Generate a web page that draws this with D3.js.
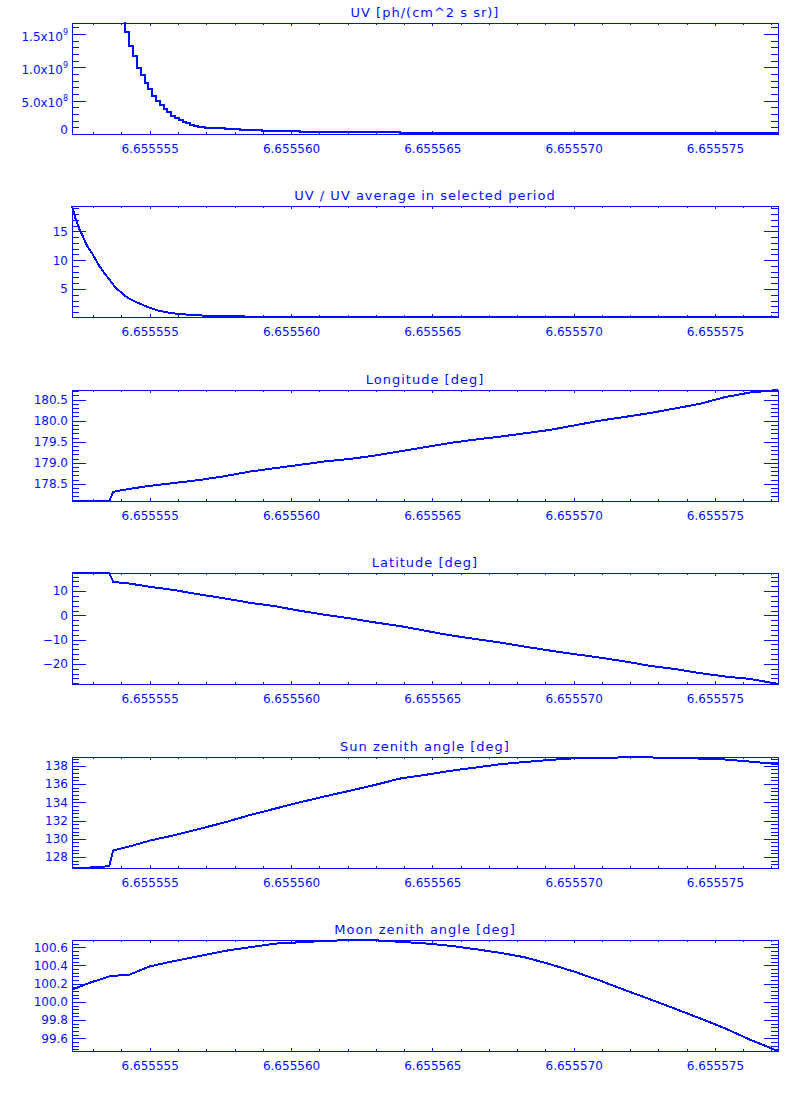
<!DOCTYPE html>
<html><head><meta charset="utf-8">
<script src="https://cdnjs.cloudflare.com/ajax/libs/d3/7.8.5/d3.min.js"></script>
<style>
body{margin:0;background:#fff;}
</style></head><body>
<svg id="chart" width="800" height="1100"></svg>
<script>
// ---------------- data ----------------
const BLUE = "#0010ff";
const timeRange = [6.65555225, 6.65557723];
const timeTicks = [6.655555, 6.655560, 6.655565, 6.655570, 6.655575];
const timeMinorStep = 1e-6;

const titles = [
  "UV [ph/(cm^2 s sr)]",
  "UV / UV average in selected period",
  "Longitude [deg]",
  "Latitude [deg]",
  "Sun zenith angle [deg]",
  "Moon zenith angle [deg]"
];

// Panel 1: UV radiance (histogram-style steps)
const uvTime = [6.65555225, 6.65555358, 6.65555387, 6.65555401, 6.65555414, 6.65555427, 6.65555441,
  6.65555454, 6.65555468, 6.65555482, 6.65555495, 6.65555508, 6.65555522, 6.65555535, 6.65555549,
  6.65555562, 6.65555576, 6.65555590, 6.65555603, 6.65555616, 6.65555630, 6.65555643, 6.65555657,
  6.65555670, 6.65555684, 6.65555697, 6.65555723, 6.65555765, 6.65555818, 6.65555896, 6.65556031,
  6.65556385, 6.65556915, 6.65557723];
const uvValue = [8.0e9, 2.8e9, 2.1e9, 1.8e9, 1.526e9, 1.315e9, 1.176e9,
  9.95e8, 8.9e8, 7.7e8, 6.8e8, 5.75e8, 5.0e8, 4.4e8, 3.8e8,
  3.35e8, 2.75e8, 2.45e8, 2.15e8, 1.85e8, 1.7e8, 1.4e8, 1.25e8,
  1.1e8, 1.05e8, 9.5e7, 8.5e7, 7.5e7, 6.0e7, 4.5e7, 3.0e7,
  2.0e7, 1.2e7, 1.0e7];
const uvRange = [0, 1.667e9];
const uvTicks = [0, 5e8, 1e9, 1.5e9];
const uvTickBase = ["0", "5.0x10", "1.0x10", "1.5x10"];
const uvTickExp = ["", "8", "9", "9"];
const uvMinor = 1e8;

// Panel 2: UV / average
const ratioTime = [6.65555225, 6.65555235, 6.65555243, 6.65555252, 6.65555264, 6.65555276, 6.65555288,
  6.65555299, 6.65555311, 6.65555323, 6.65555341, 6.65555358, 6.65555376, 6.65555394, 6.65555412,
  6.65555429, 6.65555447, 6.65555465, 6.65555482, 6.65555500, 6.65555518, 6.65555535, 6.65555571,
  6.65555606, 6.65555652, 6.65555719, 6.65555783, 6.65555889, 6.65556031, 6.65556385, 6.65557723];
const ratioValue = [19.4, 17.6, 16.5, 15.3, 14.1, 12.7, 11.8,
  10.95, 9.9, 8.9, 7.66, 6.6, 5.45, 4.6, 3.84,
  3.3, 2.85, 2.45, 2.1, 1.75, 1.45, 1.2, 0.85,
  0.66, 0.49, 0.31, 0.25, 0.2, 0.17, 0.15, 0.14];
const ratioRange = [0.14, 19.41];
const ratioTicks = [5, 10, 15];
const ratioMinor = 1;

// Panels 3-6 share a time grid
const geoTime = [6.65555225, 6.65555288, 6.65555357, 6.65555371, 6.65555429, 6.65555500, 6.65555588,
  6.65555677, 6.65555765, 6.65555854, 6.65555942, 6.65556031, 6.65556119, 6.65556208, 6.65556296,
  6.65556385, 6.65556473, 6.65556562, 6.65556650, 6.65556739, 6.65556827, 6.65556915, 6.65557004,
  6.65557092, 6.65557181, 6.65557269, 6.65557358, 6.65557446, 6.65557535, 6.65557623, 6.65557723];
const longitude = [178.09, 178.09, 178.09, 178.31, 178.38, 178.45, 178.52,
  178.59, 178.68, 178.79, 178.87, 178.95, 179.03, 179.09, 179.17,
  179.27, 179.37, 179.47, 179.55, 179.62, 179.70, 179.78, 179.89,
  180.00, 180.09, 180.18, 180.29, 180.40, 180.56, 180.67, 180.73];
const latitude = [17.45, 17.45, 17.45, 13.8, 13.1, 11.8, 10.4,
  8.6, 7.0, 5.2, 3.8, 1.9, 0.25, -1.2, -2.9,
  -4.4, -6.3, -8.2, -9.7, -11.2, -12.9, -14.5, -16.0,
  -17.4, -19.0, -20.8, -22.1, -23.8, -25.2, -26.2, -28.25];
const sunZenith = [126.85, 126.85, 127.0, 128.73, 129.17, 129.8, 130.4,
  131.1, 131.8, 132.6, 133.3, 134.0, 134.65, 135.27, 135.9,
  136.6, 137.0, 137.45, 137.8, 138.17, 138.42, 138.65, 138.83,
  138.9, 138.92, 138.92, 138.88, 138.8, 138.7, 138.47, 138.18];
const moonZenith = [100.135, 100.21, 100.28, 100.285, 100.30, 100.39, 100.45,
  100.505, 100.56, 100.60, 100.64, 100.655, 100.67, 100.679, 100.677,
  100.66, 100.643, 100.617, 100.58, 100.54, 100.49, 100.415, 100.33,
  100.235, 100.13, 100.03, 99.925, 99.82, 99.71, 99.585, 99.46];

const lonRange = [178.09, 180.73];
const lonTicks = [178.5, 179.0, 179.5, 180.0, 180.5];
const lonMinor = 0.1;
const latRange = [-28.3, 17.46];
const latTicks = [-20, -10, 0, 10];
const latMinor = 2;
const sunRange = [126.8, 138.97];
const sunTicks = [128, 130, 132, 134, 136, 138];
const sunMinor = 0.4;
const moonRange = [99.46, 100.68];
const moonTicks = [99.6, 99.8, 100.0, 100.2, 100.4, 100.6];
const moonMinor = 0.04;

// ---------------- layout ----------------
const L = 72, R = 778, PH = 111;
const tops = [23, 206.4, 389.8, 573.2, 756.6, 940];

const panels = [
  {t: uvTime, v: uvValue, range: uvRange, ticks: uvTicks, minor: uvMinor, step: true, fmt: null},
  {t: ratioTime, v: ratioValue, range: ratioRange, ticks: ratioTicks, minor: ratioMinor, fmt: d3.format("d")},
  {t: geoTime, v: longitude, range: lonRange, ticks: lonTicks, minor: lonMinor, fmt: d3.format(".1f")},
  {t: geoTime, v: latitude, range: latRange, ticks: latTicks, minor: latMinor, fmt: d3.format("d")},
  {t: geoTime, v: sunZenith, range: sunRange, ticks: sunTicks, minor: sunMinor, fmt: d3.format("d")},
  {t: geoTime, v: moonZenith, range: moonRange, ticks: moonTicks, minor: moonMinor, fmt: d3.format(".1f")}
];

const svg = d3.select("#chart");
const W = R - L;

const x = d3.scaleLinear().domain(timeRange).range([0, W]);
const xMinor = d3.range(Math.ceil(timeRange[0] / timeMinorStep - 1e-6), Math.floor(timeRange[1] / timeMinorStep + 1e-6) + 1)
  .map(k => k * timeMinorStep);

function minorTicks(range, step) {
  const a = Math.ceil(range[0] / step - 1e-6), b = Math.floor(range[1] / step + 1e-6);
  return d3.range(a, b + 1).map(k => +(k * step).toFixed(6));
}

function styleAxis(g) {
  g.attr("color", BLUE).attr("font-family", "'DejaVu Sans', sans-serif").attr("font-size", 12);
  g.select(".domain").remove();
  g.selectAll(".tick line")
    .attr("stroke", BLUE).attr("stroke-width", 1).attr("shape-rendering", "crispEdges");
  g.selectAll(".tick text").attr("fill", BLUE);
}

panels.forEach((p, i) => {
  const top = Math.round(tops[i]);
  const g = svg.append("g").attr("transform", `translate(${L},${top})`);
  const y = d3.scaleLinear().domain(p.range).range([PH, 0]);
  const ym = minorTicks(p.range, p.minor);

  // title
  g.append("text")
    .attr("x", W / 2).attr("y", -6)
    .attr("text-anchor", "middle")
    .attr("fill", BLUE)
    .attr("font-family", "'DejaVu Sans', sans-serif")
    .attr("font-size", 13)
    .attr("letter-spacing", 1)
    .text(titles[i]);

  // clip
  const cid = "clip" + i;
  g.append("clipPath").attr("id", cid).append("rect")
    .attr("x", -1).attr("y", -1).attr("width", W + 2).attr("height", PH + 2);

  // data
  const line = d3.line()
    .x(d => x(d[0])).y(d => y(d[1]))
    .curve(p.step ? d3.curveStepAfter : d3.curveLinear);
  g.append("path")
    .datum(p.t.map((t, k) => [t, p.v[k]]))
    .attr("clip-path", `url(#${cid})`)
    .attr("fill", "none")
    .attr("stroke", BLUE)
    .attr("stroke-width", 2)
    .attr("stroke-linejoin", "miter")
    .attr("shape-rendering", "crispEdges")
    .attr("d", line);

  // left axis (labels + inward ticks)
  const gl = g.append("g")
    .call(d3.axisLeft(y).tickValues(p.ticks).tickSizeInner(-14).tickSizeOuter(0).tickPadding(4)
      .tickFormat(p.fmt ? p.fmt : () => ""))
    .call(styleAxis);
  if (!p.fmt) {
    gl.selectAll(".tick text").each(function(d, k) {
      const t = d3.select(this);
      t.text(null);
      if (uvTickExp[k] === "") {
        t.attr("dy", "0.32em").attr("transform", "translate(0,-4)");
        t.append("tspan").text(uvTickBase[k]);
      } else {
        t.attr("dy", "0.5em");
        t.append("tspan").text(uvTickBase[k]);
        t.append("tspan").attr("font-size", 8).attr("dy", -6).text(uvTickExp[k]);
      }
    });
  }
  g.append("g")
    .call(d3.axisLeft(y).tickValues(ym).tickSizeInner(-7).tickSizeOuter(0).tickFormat(() => ""))
    .call(styleAxis);

  // right axis
  g.append("g").attr("transform", `translate(${W},0)`)
    .call(d3.axisRight(y).tickValues(p.ticks).tickSizeInner(-14).tickSizeOuter(0).tickFormat(() => ""))
    .call(styleAxis);
  g.append("g").attr("transform", `translate(${W},0)`)
    .call(d3.axisRight(y).tickValues(ym).tickSizeInner(-7).tickSizeOuter(0).tickFormat(() => ""))
    .call(styleAxis);

  // bottom axis
  g.append("g").attr("transform", `translate(0,${PH})`)
    .call(d3.axisBottom(x).tickValues(timeTicks).tickSizeInner(-3).tickSizeOuter(0).tickPadding(10)
      .tickFormat(d3.format(".6f")))
    .call(styleAxis);
  g.append("g").attr("transform", `translate(0,${PH})`)
    .call(d3.axisBottom(x).tickValues(xMinor).tickSizeInner(-2).tickSizeOuter(0).tickFormat(() => ""))
    .call(styleAxis);

  // top axis
  g.append("g")
    .call(d3.axisTop(x).tickValues(timeTicks).tickSizeInner(-3).tickSizeOuter(0).tickFormat(() => ""))
    .call(styleAxis);
  g.append("g")
    .call(d3.axisTop(x).tickValues(xMinor).tickSizeInner(-2).tickSizeOuter(0).tickFormat(() => ""))
    .call(styleAxis);

  // frame
  g.append("rect")
    .attr("x", 0.5).attr("y", 0.5).attr("width", W).attr("height", PH)
    .attr("fill", "none").attr("stroke", BLUE).attr("stroke-width", 1)
    .attr("shape-rendering", "crispEdges");
});
</script>
</body></html>
